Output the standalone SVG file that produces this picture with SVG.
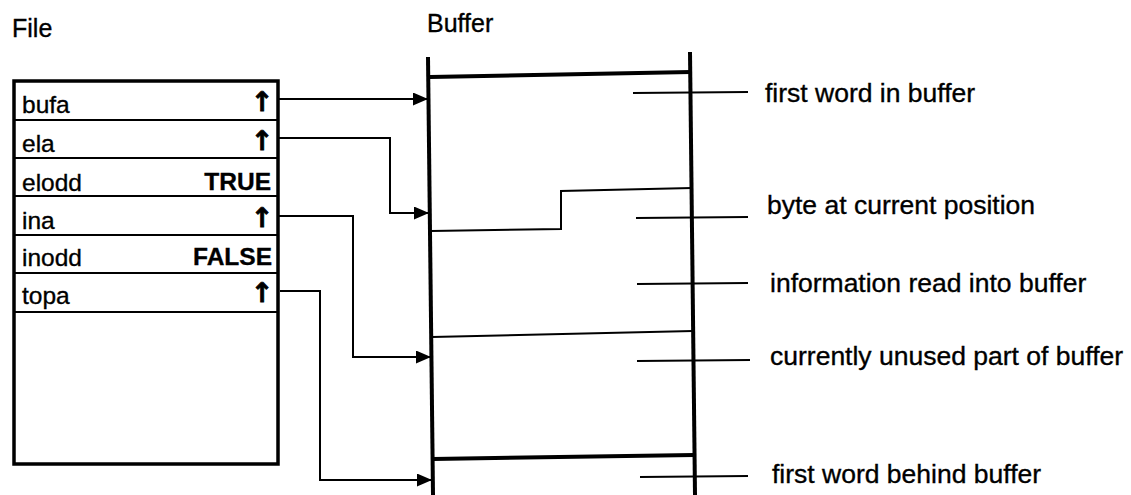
<svg xmlns="http://www.w3.org/2000/svg" width="1131" height="495" viewBox="0 0 1131 495">
<style>
text{font-family:"Liberation Sans",Arial,sans-serif;fill:#000;stroke:#000;stroke-width:0.35}
.title{font-size:25px}
.row{font-size:24.5px}
.val{font-size:24.5px;font-weight:bold;text-anchor:end}
.ptr{font-family:"DejaVu Sans",sans-serif;font-size:27px;font-weight:bold;text-anchor:middle;stroke-width:0.8}
.lbl{font-size:26.5px}
.thin{stroke:#000;stroke-width:2;fill:none}
.thick{stroke:#000;stroke-width:4;fill:none}
.conn{stroke:#000;stroke-width:2;fill:none;marker-end:url(#ah)}
</style>
<defs>
<marker id="ah" markerUnits="userSpaceOnUse" markerWidth="16" markerHeight="14" refX="15" refY="6.5" orient="auto">
<path d="M0,0 L15,6.5 L0,13 z" fill="#000"/>
</marker>
</defs>
<rect width="1131" height="495" fill="#fff"/>
<text class="title" x="12" y="37">File</text>
<text class="title" x="427" y="32">Buffer</text>

<g id="file">
<rect x="14" y="81" width="264" height="383" fill="none" stroke="#000" stroke-width="3.5"/>
<path class="thin" d="M14,120 H278 M14,158 H278 M14,196 H278 M14,235 H278 M14,273 H278 M14,312 H278"/>
<text class="row" x="22" y="113">bufa</text>
<text class="ptr" x="262" y="111">↑</text>
<text class="row" x="22" y="152">ela</text>
<text class="ptr" x="262" y="150">↑</text>
<text class="row" x="22" y="191">elodd</text>
<text class="val" x="271" y="190">TRUE</text>
<text class="row" x="22" y="229">ina</text>
<text class="ptr" x="262" y="227">↑</text>
<text class="row" x="22" y="266">inodd</text>
<text class="val" x="272" y="265">FALSE</text>
<text class="row" x="22" y="304">topa</text>
<text class="ptr" x="262" y="302">↑</text>
</g>

<g id="buffer">
<path class="thick" d="M428,57 L433,495" stroke-width="3.5"/>
<path class="thick" d="M690,52 L695,495" stroke-width="3.5"/>
<path class="thick" d="M430,77 L691,72"/>
<path class="thin" d="M431,231 L561,229 V191 L692,188"/>
<path class="thin" d="M432,337 L693,331" stroke-width="2.5"/>
<path class="thick" d="M433,459 L694,455"/>
</g>

<g id="labels">
<path class="thin" d="M633,93 L748,92 M636,218 L748,217 M637,284 L748,283 M637,361 L750,360 M640,477 L748,476"/>
<text class="lbl" x="765" y="102">first word in buffer</text>
<text class="lbl" x="767" y="214">byte at current position</text>
<text class="lbl" x="770" y="292">information read into buffer</text>
<text class="lbl" x="770" y="365">currently unused part of buffer</text>
<text class="lbl" x="772" y="483">first word behind buffer</text>
</g>

<g id="connectors">
<path class="conn" d="M278,99 H428"/>
<path class="conn" d="M278,138 H390 V213 H429"/>
<path class="conn" d="M278,216 H353 V357 H431"/>
<path class="conn" d="M280,291 H320 V480 H432"/>
</g>
</svg>
